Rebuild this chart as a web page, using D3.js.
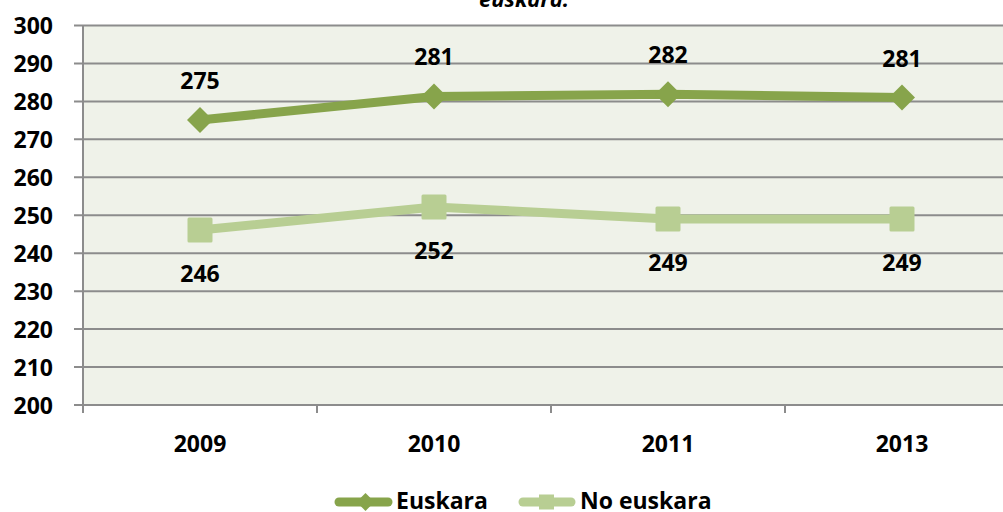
<!DOCTYPE html>
<html lang="es">
  <head>
    <meta charset="utf-8">
    <script src="https://d3js.org/d3.v7.min.js"></script>
    <style>
    body { margin: 0; background: #fff; }
    svg { display: block; font-family: "Open Sans", "DejaVu Sans", sans-serif; font-weight: 700; }
    </style>
  </head>
  <body>
    <div id="place"></div>
    <script type="text/javascript">
    // data
    var years = ["2009", "2010", "2011", "2013"];
    var euskara = [275.1, 281.3, 281.9, 281.0];
    var noEuskara = [246.1, 252.2, 249.0, 249.0];
    var euskaraLabels = ["275", "281", "282", "281"];
    var noEuskaraLabels = ["246", "252", "249", "249"];
    var yTicks = [200, 210, 220, 230, 240, 250, 260, 270, 280, 290, 300];
    var seriesNames = ["Euskara", "No euskara"];

    var width = 1003, height = 512;
    var plot = { left: 83, right: 1019, top: 25.5, bottom: 405 };
    var green = "#87A44B", lightGreen = "#B8CE93", grid = "#8C8C8C";
    var fs = "23px";

    var svg = d3.select("#place").append("svg")
      .attr("width", width)
      .attr("height", height);

    var x = d3.scaleBand().domain(years).range([plot.left, plot.right]);
    var y = d3.scaleLinear().domain([200, 300]).range([plot.bottom, plot.top]);
    var cx = function(d) { return x(d) + x.bandwidth() / 2; };

    // plot area background
    svg.append("rect")
      .attr("x", plot.left).attr("y", plot.top)
      .attr("width", plot.right - plot.left).attr("height", plot.bottom - plot.top)
      .attr("fill", "#EFF2E9");

    // title (top is cut off in the original)
    svg.append("text")
      .attr("x", 524).attr("y", 7)
      .attr("text-anchor", "middle")
      .style("font-size", "22px")
      .style("font-style", "italic")
      .text("euskara.");

    // gridlines + y ticks
    svg.append("g").selectAll("line").data(yTicks).enter().append("line")
      .attr("x1", plot.left - 9).attr("x2", plot.right)
      .attr("y1", function(d) { return y(d); }).attr("y2", function(d) { return y(d); })
      .attr("stroke", grid).attr("stroke-width", 2);

    svg.append("g").selectAll("text").data(yTicks).enter().append("text")
      .attr("x", 53).attr("y", function(d) { return y(d) + 8.5; })
      .attr("text-anchor", "end")
      .style("font-size", fs)
      .text(function(d) { return d; });

    // y axis line
    svg.append("line")
      .attr("x1", plot.left).attr("x2", plot.left)
      .attr("y1", plot.top).attr("y2", plot.bottom + 8)
      .attr("stroke", grid).attr("stroke-width", 2);

    // x axis ticks at band edges
    svg.append("g").selectAll("line").data(years).enter().append("line")
      .attr("x1", function(d) { return x(d) + x.bandwidth(); })
      .attr("x2", function(d) { return x(d) + x.bandwidth(); })
      .attr("y1", plot.bottom).attr("y2", plot.bottom + 8)
      .attr("stroke", grid).attr("stroke-width", 2);

    svg.append("g").selectAll("text").data(years).enter().append("text")
      .attr("x", cx).attr("y", 452)
      .attr("text-anchor", "middle")
      .style("font-size", fs)
      .text(function(d) { return d; });

    var line = d3.line()
      .x(function(d, i) { return cx(years[i]); })
      .y(function(d) { return y(d); });

    // No euskara series
    svg.append("path").datum(noEuskara)
      .attr("fill", "none").attr("stroke", lightGreen)
      .attr("stroke-width", 9).attr("stroke-linejoin", "round")
      .attr("d", line);
    svg.append("g").selectAll("rect").data(noEuskara).enter().append("rect")
      .attr("x", function(d, i) { return cx(years[i]) - 12.5; })
      .attr("y", function(d) { return y(d) - 12.5; })
      .attr("width", 25).attr("height", 25).attr("rx", 1.5)
      .attr("fill", lightGreen);

    // Euskara series
    svg.append("path").datum(euskara)
      .attr("fill", "none").attr("stroke", green)
      .attr("stroke-width", 9).attr("stroke-linejoin", "round")
      .attr("d", line);
    var diamond = d3.symbol().type(d3.symbolSquare).size(338);
    svg.append("g").selectAll("path").data(euskara).enter().append("path")
      .attr("d", diamond)
      .attr("transform", function(d, i) { return "translate(" + cx(years[i]) + "," + y(d) + ") rotate(45)"; })
      .attr("fill", green);

    // data labels
    svg.append("g").selectAll("text").data(euskara).enter().append("text")
      .attr("x", function(d, i) { return cx(years[i]); })
      .attr("y", function(d) { return y(d) - 31; })
      .attr("text-anchor", "middle")
      .style("font-size", fs)
      .text(function(d, i) { return euskaraLabels[i]; });
    svg.append("g").selectAll("text").data(noEuskara).enter().append("text")
      .attr("x", function(d, i) { return cx(years[i]); })
      .attr("y", function(d) { return y(d) + 52; })
      .attr("text-anchor", "middle")
      .style("font-size", fs)
      .text(function(d, i) { return noEuskaraLabels[i]; });

    // legend
    var legend = svg.append("g");
    var ly = 502;
    legend.append("line")
      .attr("x1", 339).attr("x2", 388).attr("y1", ly).attr("y2", ly)
      .attr("stroke", green).attr("stroke-width", 9).attr("stroke-linecap", "round");
    legend.append("path")
      .attr("d", d3.symbol().type(d3.symbolSquare).size(160))
      .attr("transform", "translate(365.5," + ly + ") rotate(45)")
      .attr("fill", green);
    legend.append("text")
      .attr("x", 396).attr("y", 509)
      .style("font-size", fs)
      .text(seriesNames[0]);

    legend.append("line")
      .attr("x1", 523).attr("x2", 571).attr("y1", ly).attr("y2", ly)
      .attr("stroke", lightGreen).attr("stroke-width", 9).attr("stroke-linecap", "round");
    legend.append("rect")
      .attr("x", 539).attr("y", ly - 7.5).attr("width", 15).attr("height", 15)
      .attr("fill", lightGreen);
    legend.append("text")
      .attr("x", 580).attr("y", 509)
      .style("font-size", fs)
      .text(seriesNames[1]);
    </script>
  </body>
</html>
